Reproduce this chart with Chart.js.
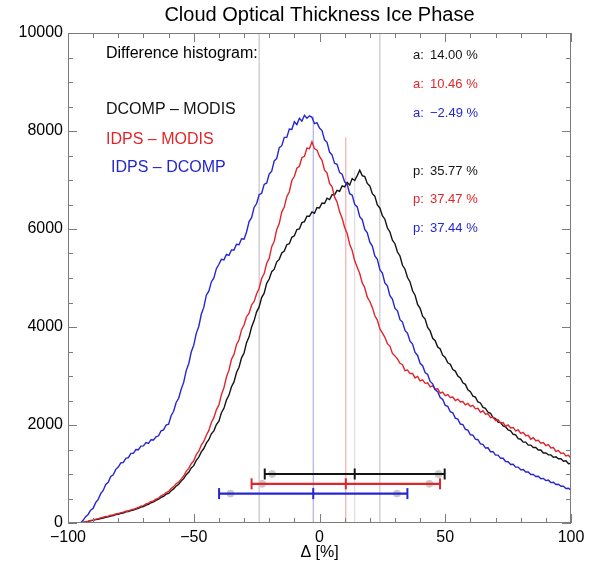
<!DOCTYPE html>
<html>
<head>
<meta charset="utf-8">
<script src="https://cdn.jsdelivr.net/npm/chart.js@4.4.1/dist/chart.umd.min.js"></script>
<style>
  html, body { margin: 0; padding: 0; background: #ffffff; }
  canvas { display: block; }
</style>
</head>
<body>
<canvas id="chart" width="592" height="566"></canvas>
<script>
// Histogram bins: one count per 1 % bin of Δ, first bin at −95 %
const binStart = -95;
const binWidth = 1;

// DCOMP − MODIS difference counts
const dcompModis = [
  0,10,22,32,46,54,
  68,77,92,101,117,
  126,142,152,170,178,
  197,205,226,233,252,
  266,286,300,325,336,
  366,382,414,430,462,
  485,522,545,588,605,
  660,695,752,790,855,
  905,985,1035,1125,1170,
  1280,1345,1450,1520,1630,
  1700,1820,1880,2010,2080,
  2250,2340,2510,2610,2780,
  2880,3070,3180,3370,3470,
  3680,3800,4000,4130,4310,
  4410,4600,4690,4890,4980,
  5130,5180,5330,5380,5510,
  5550,5680,5700,5830,5860,
  5990,6000,6130,6150,6260,
  6260,6350,6320,6440,6430,
  6530,6520,6630,6600,6700,
  6700,6790,6770,6880,6860,
  6950,6900,7030,6990,7090,
  7200,7090,7070,6930,6880,
  6720,6670,6490,6430,6270,
  6200,6020,5940,5770,5700,
  5530,5450,5260,5180,5010,
  4920,4740,4650,4460,4380,
  4220,4160,3990,3920,3770,
  3720,3590,3550,3420,3380,
  3270,3240,3130,3100,3000,
  2960,2860,2830,2720,2680,
  2590,2570,2470,2450,2360,
  2340,2260,2240,2150,2130,
  2060,2050,1980,1960,1900,
  1880,1810,1800,1720,1710,
  1650,1650,1590,1590,1540,
  1540,1490,1490,1430,1430,
  1390,1390,1340,1350,1310,
  1310,1260,1270,1210,1220
];

// IDPS − MODIS difference counts
const idpsModis = [
  0,12,28,38,54,63,
  80,90,106,117,132,
  141,158,167,184,193,
  212,221,240,249,268,
  280,300,318,343,356,
  388,405,437,452,485,
  510,552,578,622,645,
  705,742,800,838,895,
  960,1055,1115,1210,1270,
  1395,1465,1590,1665,1790,
  1890,2050,2150,2310,2410,
  2620,2760,2980,3120,3340,
  3440,3640,3740,3940,4040,
  4210,4280,4450,4520,4680,
  4790,4990,5090,5300,5400,
  5640,5750,5990,6110,6350,
  6450,6660,6760,6990,7070,
  7240,7280,7460,7480,7650,
  7640,7780,7640,7610,7480,
  7400,7200,7140,6930,6860,
  6650,6550,6350,6220,6030,
  5910,5690,5560,5350,5220,
  5090,4900,4800,4610,4520,
  4400,4230,4140,3960,3880,
  3790,3660,3610,3460,3410,
  3350,3260,3230,3110,3120,
  3050,3050,2960,2990,2900,
  2920,2850,2860,2780,2800,
  2730,2740,2650,2670,2600,
  2620,2560,2570,2500,2530,
  2470,2480,2410,2440,2380,
  2400,2330,2340,2260,2290,
  2220,2230,2150,2160,2090,
  2110,2040,2050,1970,2000,
  1940,1950,1880,1900,1830,
  1850,1780,1790,1710,1740,
  1680,1690,1630,1640,1580,
  1600,1530,1540,1460,1480,
  1420,1430,1370,1380,1320
];

// IDPS − DCOMP difference counts
const idpsDcomp = [
  0,55,130,175,260,300,
  415,480,600,665,785,
  830,950,985,1095,1140,
  1225,1235,1320,1335,1420,
  1420,1500,1495,1570,1575,
  1640,1625,1700,1695,1760,
  1780,1880,1900,2000,2015,
  2190,2280,2460,2545,2730,
  2870,3110,3250,3490,3630,
  3870,4010,4260,4400,4650,
  4730,4920,5000,5190,5280,
  5380,5370,5480,5460,5570,
  5570,5690,5680,5800,5790,
  5940,6150,6230,6440,6520,
  6700,6730,6910,6940,7120,
  7180,7390,7440,7660,7700,
  7870,7870,8040,8030,8190,
  8130,8260,8200,8320,8260,
  8310,8280,8150,8170,8060,
  8010,7820,7770,7570,7510,
  7340,7320,7150,7120,6960,
  6910,6720,6690,6500,6450,
  6250,6190,5990,5920,5730,
  5650,5450,5380,5170,5100,
  4900,4840,4640,4570,4380,
  4330,4150,4100,3930,3870,
  3710,3650,3480,3420,3260,
  3210,3070,3030,2890,2840,
  2720,2680,2560,2520,2400,
  2380,2270,2250,2140,2120,
  2020,2010,1910,1895,1800,
  1795,1710,1700,1615,1605,
  1530,1535,1455,1455,1385,
  1385,1320,1320,1255,1250,
  1195,1200,1140,1140,1085,
  1090,1040,1040,990,990,
  950,955,905,910,865,
  875,825,830,785,790,
  750,750,705,710,670
];

// Per-series statistics, order: DCOMP−MODIS, IDPS−MODIS, IDPS−DCOMP
const seriesNames  = ['DCOMP \u2013 MODIS', 'IDPS \u2013 MODIS', 'IDPS \u2013 DCOMP'];
const seriesColors = ['#141414', '#e0262b', '#2626d0'];
const meanLineColors = ['#d6d6d6', '#f29a9a', '#a0a0e8'];
const accuracyA  = [14.00, 10.46, -2.49];      // a: mean difference [%]
const precisionP = [35.77, 37.47, 37.44];      // p: spread [%]
const innerLow   = [-18.8, -22.8, -35.4];      // grey markers on the bars
const innerHigh  = [47.3, 43.7, 30.8];
const barLevels  = [1000, 800, 600];           // count level of each bar
const peakCounts = [7200, 7870, 8300];         // height of the mean lines
const limitLines = [-24, 24];                  // reference limits [%]

const xTickValues = [-100, -50, 0, 50, 100];
const yTickValues = [0, 2000, 4000, 6000, 8000, 10000];

const FONT = '"Liberation Sans", Arial, Helvetica, sans-serif';
Chart.defaults.font.family = FONT;
Chart.defaults.color = '#000000';

function histPoints(counts) {
  return counts.map((c, i) => ({ x: binStart + i * binWidth, y: c }));
}
function fmt(v) {
  return (v < 0 ? '\u2212' : '') + Math.abs(v).toFixed(2) + ' %';
}

const datasets = [];

// Reference limit lines
limitLines.forEach(v => datasets.push({
  data: [{ x: v, y: 0 }, { x: v, y: 10000 }],
  borderColor: '#b9b9b9', borderWidth: 1, pointRadius: 0, order: 20
}));

// Mean lines of each series
accuracyA.forEach((a, k) => datasets.push({
  data: [{ x: a, y: 0 }, { x: a, y: peakCounts[k] }],
  borderColor: meanLineColors[k], borderWidth: 1, pointRadius: 0, order: 19
}));

// Histogram curves
[dcompModis, idpsModis, idpsDcomp].forEach((counts, k) => datasets.push({
  data: histPoints(counts),
  borderColor: seriesColors[k], borderWidth: 1.4, pointRadius: 0,
  tension: 0, order: 15 - k
}));

// Grey markers under the bars
innerLow.forEach((lo, k) => datasets.push({
  data: [{ x: lo, y: barLevels[k] }, { x: innerHigh[k], y: barLevels[k] }],
  showLine: false, pointRadius: 3.5, pointStyle: 'circle',
  backgroundColor: '#c9c9c9', borderColor: '#c9c9c9', order: 8
}));

// Bars: mean ± p with end and centre marks
accuracyA.forEach((a, k) => datasets.push({
  data: [
    { x: a - precisionP[k], y: barLevels[k] },
    { x: a, y: barLevels[k] },
    { x: a + precisionP[k], y: barLevels[k] }
  ],
  borderColor: seriesColors[k], backgroundColor: seriesColors[k],
  borderWidth: 2.2, pointStyle: 'line', pointRotation: 90,
  pointRadius: 5.5, pointBorderWidth: 2, order: 5 - k
}));

const decorations = {
  id: 'decorations',
  afterDatasetsDraw(chart) {
    const { ctx, chartArea: a, scales: { x, y } } = chart;
    ctx.save();
    ctx.strokeStyle = '#7c7c7c';
    ctx.lineWidth = 1;
    ctx.strokeRect(a.left + 0.5, a.top + 0.5, a.right - a.left - 1, a.bottom - a.top - 1);
    ctx.beginPath();
    for (let v = -100; v <= 100; v += 10) {
      const px = Math.round(x.getPixelForValue(v)) + 0.5;
      const len = v % 50 === 0 ? 9 : 5;
      ctx.moveTo(px, a.bottom); ctx.lineTo(px, a.bottom - len);
      ctx.moveTo(px, a.top); ctx.lineTo(px, a.top + len);
    }
    for (let v = 0; v <= 10000; v += 500) {
      const py = Math.round(y.getPixelForValue(v)) + 0.5;
      const len = v % 2000 === 0 ? 9 : 5;
      ctx.moveTo(a.left, py); ctx.lineTo(a.left + len, py);
      ctx.moveTo(a.right, py); ctx.lineTo(a.right - len, py);
    }
    ctx.stroke();
    ctx.restore();
  },
  afterDraw(chart) {
    const { ctx, chartArea: a } = chart;
    ctx.save();
    ctx.textBaseline = 'middle';

    // Title and x-axis title
    ctx.fillStyle = '#000';
    ctx.textAlign = 'center';
    ctx.font = '20px ' + FONT;
    ctx.fillText('Cloud Optical Thickness Ice Phase', (a.left + a.right) / 2, 15);
    ctx.font = '16px ' + FONT;
    ctx.fillText('\u0394 [%]', (a.left + a.right) / 2, 553);

    // Legend block
    ctx.textAlign = 'left';
    ctx.fillText('Difference histogram:', 106, 54);
    const legendX = [106, 106, 111];
    const legendY = [110, 140, 168];
    seriesNames.forEach((n, k) => {
      ctx.fillStyle = seriesColors[k];
      ctx.fillText(n, legendX[k], legendY[k]);
    });

    // Statistics block
    ctx.font = '13px ' + FONT;
    const aY = [55, 84, 113];
    const pY = [171, 199, 228];
    accuracyA.forEach((v, k) => {
      ctx.fillStyle = seriesColors[k];
      ctx.fillText('a:', 413, aY[k]);
      ctx.fillText(fmt(v), 430, aY[k]);
      ctx.fillText('p:', 413, pY[k]);
      ctx.fillText(fmt(precisionP[k]), 430, pY[k]);
    });
    ctx.restore();
  }
};

new Chart(document.getElementById('chart'), {
  type: 'line',
  data: { datasets },
  options: {
    responsive: false,
    animation: false,
    devicePixelRatio: 1,
    layout: { padding: { top: 33, right: 21, left: 0, bottom: 0 } },
    plugins: { legend: { display: false }, tooltip: { enabled: false }, title: { display: false } },
    scales: {
      x: {
        type: 'linear', min: -100, max: 100,
        afterBuildTicks: s => { s.ticks = xTickValues.map(v => ({ value: v })); },
        afterFit: s => { s.height = 43; },
        grid: { display: false, drawTicks: false },
        border: { display: false },
        ticks: {
          padding: 5, maxRotation: 0, autoSkip: false,
          font: { size: 16 }, color: '#000',
          callback: v => (v < 0 ? '\u2212' + Math.abs(v) : String(v))
        }
      },
      y: {
        type: 'linear', min: 0, max: 10000,
        afterBuildTicks: s => { s.ticks = yTickValues.map(v => ({ value: v })); },
        afterFit: s => { s.width = 68; },
        grid: { display: false, drawTicks: false },
        border: { display: false },
        ticks: { padding: 5, font: { size: 16 }, color: '#000', callback: v => String(v) }
      }
    }
  },
  plugins: [decorations]
});
</script>
</body>
</html>
